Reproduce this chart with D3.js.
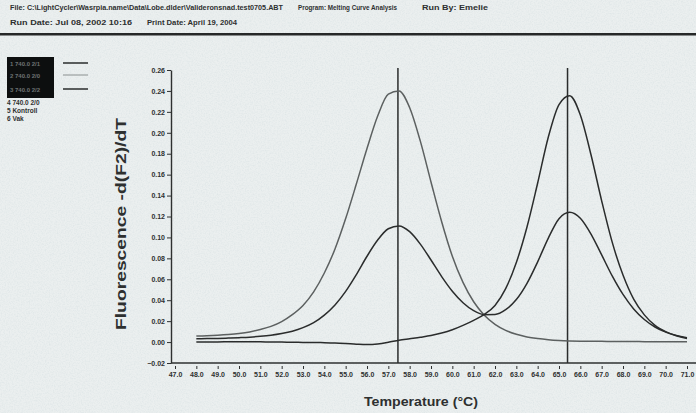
<!DOCTYPE html>
<html>
<head>
<meta charset="utf-8">
<script src="https://cdn.jsdelivr.net/npm/d3@7"></script>
<style>
  html, body { margin: 0; padding: 0; background: #eef1f1; }
  svg { display: block; }
  text { font-family: "Liberation Sans", Arial, sans-serif; font-weight: bold; fill: #2e3030; }
</style>
</head>
<body>
<div id="chart"></div>
<script>
// melting temperatures (degrees C), sampled every half degree
var temps = [48.0, 48.5, 49.0, 49.5, 50.0, 50.5, 51.0, 51.5, 52.0, 52.5, 53.0, 53.5,
             54.0, 54.5, 55.0, 55.5, 56.0, 56.5, 57.0, 57.5, 58.0, 58.5, 59.0, 59.5,
             60.0, 60.5, 61.0, 61.5, 62.0, 62.5, 63.0, 63.5, 64.0, 64.5, 65.0, 65.5,
             66.0, 66.5, 67.0, 67.5, 68.0, 68.5, 69.0, 69.5, 70.0, 70.5, 71.0];

// -d(F2)/dT for the three selected samples
var tall57 = [0.0057, 0.0060, 0.0065, 0.0072, 0.0082, 0.0097, 0.0120, 0.0150, 0.0196, 0.0262, 0.0350, 0.0480,
              0.0660, 0.0890, 0.1180, 0.1510, 0.1850, 0.2160, 0.2370, 0.2400, 0.2240, 0.1920, 0.1530, 0.1150,
              0.0820, 0.0570, 0.0385, 0.0257, 0.0170, 0.0112, 0.0074, 0.0049, 0.0033, 0.0022, 0.0015, 0.0011,
              0.0009, 0.0008, 0.0007, 0.0006, 0.0005, 0.0005, 0.0004, 0.0004, 0.0003, 0.0003, 0.0003];
var het = [0.0032, 0.0033, 0.0035, 0.0038, 0.0042, 0.0047, 0.0055, 0.0066, 0.0082, 0.0104, 0.0138, 0.0186,
           0.0258, 0.0355, 0.0485, 0.0645, 0.0820, 0.0975, 0.1083, 0.1110, 0.1055, 0.0936, 0.0784, 0.0626,
           0.0486, 0.0376, 0.0300, 0.0262, 0.0263, 0.0309, 0.0406, 0.0561, 0.0767, 0.0994, 0.1179, 0.1240,
           0.1183, 0.1032, 0.0833, 0.0630, 0.0455, 0.0317, 0.0216, 0.0144, 0.0095, 0.0062, 0.0041];
var tall65 = [0.0000, 0.0001, 0.0001, 0.0003, 0.0004, 0.0003, 0.0002, 0.0001, 0.0000, -0.0002, -0.0003, -0.0004,
              -0.0006, -0.0009, -0.0014, -0.0020, -0.0024, -0.0018, -0.0002, 0.0018, 0.0032, 0.0046, 0.0062, 0.0086,
              0.0118, 0.0160, 0.0208, 0.0265, 0.0350, 0.0510, 0.0760, 0.1100, 0.1520, 0.1960, 0.2270, 0.2355,
              0.2170, 0.1790, 0.1350, 0.0950, 0.0640, 0.0410, 0.0260, 0.0160, 0.0100, 0.0060, 0.0035];

// Tm markers
var tmLines = [57.45, 65.4];

var xTicks = [47, 48, 49, 50, 51, 52, 53, 54, 55, 56, 57, 58, 59, 60, 61, 62, 63, 64, 65, 66, 67, 68, 69, 70, 71];
var yTicks = [-0.02, 0.00, 0.02, 0.04, 0.06, 0.08, 0.10, 0.12, 0.14, 0.16, 0.18, 0.20, 0.22, 0.24, 0.26];

var sampleNames = ["1 740.0 2/1", "2 740.0 2/0", "3 740.0 2/2", "4 740.0 2/0", "5 Kontroll", "6 Vak"];

var width = 696, height = 413;

var svg = d3.select("#chart").append("svg")
  .attr("width", width)
  .attr("height", height);

// faint scan texture
var defs = svg.append("defs");
var noise = defs.append("filter").attr("id", "grain").attr("x", 0).attr("y", 0).attr("width", "100%").attr("height", "100%");
noise.append("feTurbulence").attr("type", "fractalNoise").attr("baseFrequency", 0.75).attr("numOctaves", 2).attr("seed", 3);
noise.append("feColorMatrix").attr("type", "matrix")
  .attr("values", "0 0 0 0 0.62  0 0 0 0 0.70  0 0 0 0 0.72  0 0 0 1.3 -0.5");

svg.append("rect").attr("width", width).attr("height", height).attr("fill", "#ebefef");
svg.append("rect").attr("width", width).attr("height", height).attr("filter", "url(#grain)").attr("opacity", 0.6);

// header (widths stretched like the scan)
var header = [
  { x: 10, y: 10, len: 273, txt: "File: C:\\LightCycler\\Wasrpia.name\\Data\\Lobe.dlder\\Valideronsnad.test0705.ABT" },
  { x: 298, y: 10, len: 99, txt: "Program: Melting Curve Analysis" },
  { x: 422, y: 10, len: 66, txt: "Run By: Emelie" },
  { x: 10, y: 25, len: 122, txt: "Run Date: Jul 08, 2002 10:16" },
  { x: 147, y: 25, len: 90, txt: "Print Date: April 19, 2004" }
];
header.forEach(function(h) {
  svg.append("text").attr("x", h.x).attr("y", h.y).attr("font-size", 6.5)
    .attr("textLength", h.len).attr("lengthAdjust", "spacingAndGlyphs").text(h.txt);
});
svg.append("rect").attr("x", 0).attr("y", 33).attr("width", width).attr("height", 2.5).attr("fill", "#262828");

// scales
var x = d3.scaleLinear().domain([47, 71]).range([175, 687]);
var y = d3.scaleLinear().domain([-0.02, 0.26]).range([363, 70]);
var axisX = 171;

// axes
var gy = svg.append("g").attr("transform", "translate(" + axisX + ",0)")
  .call(d3.axisLeft(y).tickValues(yTicks).tickFormat(d3.format(".2f")).tickSize(4).tickSizeOuter(0));
gy.select(".domain").attr("stroke", "#2e3030").attr("stroke-width", 1.4);
gy.selectAll(".tick line").attr("stroke", "#2e3030");
gy.selectAll(".tick text").attr("font-size", 7).attr("font-family", "Liberation Sans, Arial, sans-serif")
  .attr("font-weight", "bold").attr("fill", "#2e3030").attr("x", -6);

var gx = svg.append("g").attr("transform", "translate(0," + y(-0.02) + ")")
  .call(d3.axisBottom(x).tickValues(xTicks).tickFormat(d3.format(".1f")).tickSize(3).tickSizeOuter(0));
gx.select(".domain").remove();
gx.selectAll(".tick line").attr("stroke", "#2e3030").attr("transform", "translate(0,3)");
gx.selectAll(".tick text").attr("font-size", 7).attr("font-family", "Liberation Sans, Arial, sans-serif")
  .attr("font-weight", "bold").attr("fill", "#2e3030").attr("y", 9);
svg.append("line").attr("x1", axisX).attr("x2", width).attr("y1", y(-0.02)).attr("y2", y(-0.02))
  .attr("stroke", "#2e3030").attr("stroke-width", 1.6);

// axis titles
svg.append("text").attr("x", 364).attr("y", 406).attr("font-size", 12)
  .attr("textLength", 114).attr("lengthAdjust", "spacingAndGlyphs")
  .text("Temperature (\u00B0C)");
svg.append("text").attr("transform", "translate(126,330) rotate(-90)").attr("font-size", 15)
  .attr("textLength", 212).attr("lengthAdjust", "spacingAndGlyphs")
  .text("Fluorescence -d(F2)/dT");

// Tm lines
svg.selectAll(".tm").data(tmLines).enter().append("line")
  .attr("class", "tm")
  .attr("x1", function(d) { return x(d); }).attr("x2", function(d) { return x(d); })
  .attr("y1", y(0.262)).attr("y2", y(-0.02))
  .attr("stroke", "#2a2c2c").attr("stroke-width", 1.5);

// curves
var series = [
  { values: tall57, color: "#5c6060" },
  { values: het, color: "#2a2c2c" },
  { values: tall65, color: "#2a2c2c" }
];

var line = d3.line()
  .x(function(d, i) { return x(temps[i]); })
  .y(function(d) { return y(d); })
  .curve(d3.curveMonotoneX);

svg.selectAll(".curve").data(series).enter().append("path")
  .attr("class", "curve")
  .attr("d", function(d) { return line(d.values); })
  .attr("fill", "none")
  .attr("stroke", function(d) { return d.color; })
  .attr("stroke-width", 1.5);

// sample legend
svg.append("rect").attr("x", 7).attr("y", 57).attr("width", 47).attr("height", 41).attr("fill", "#0d0f0f");
var legendLines = [{ y: 63, color: "#2a2c2c", w: 1.5 }, { y: 75, color: "#8a9090", w: 1 }, { y: 89, color: "#2a2c2c", w: 1.5 }];
legendLines.forEach(function(d, i) {
  svg.append("text").attr("x", 10).attr("y", d.y + 2.5).attr("font-size", 6)
    .style("fill", "#6d7373").text(sampleNames[i]);
  svg.append("line").attr("x1", 63).attr("x2", 88).attr("y1", d.y).attr("y2", d.y)
    .attr("stroke", d.color).attr("stroke-width", d.w);
});
sampleNames.slice(3).forEach(function(name, i) {
  svg.append("text").attr("x", 7).attr("y", 105 + i * 8).attr("font-size", 6.5).text(name);
});
</script>
</body>
</html>
